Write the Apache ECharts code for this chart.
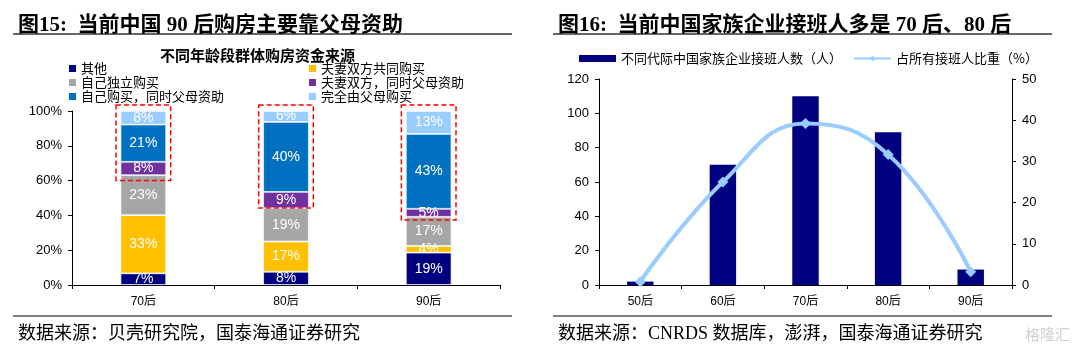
<!DOCTYPE html>
<html><head><meta charset="utf-8">
<script src="https://cdn.jsdelivr.net/npm/echarts@6/dist/echarts.min.js"></script>
<style>html,body{margin:0;padding:0;background:#fff}#c{width:1080px;height:344px}</style>
</head><body><div id="c"></div>
<script>
// ---- Left chart data ----
const leftCategories = ['70后', '80后', '90后'];
const leftSeriesNames = ['其他', '夫妻双方共同购买', '自己独立购买', '夫妻双方，同时父母资助', '自己购买，同时父母资助', '完全由父母购买'];
const otherVals = [6.7, 7.6, 18.6];
const coupleVals = [33.4, 17.4, 3.8];
const selfVals = [23.0, 19.1, 16.8];
const coupleParentVals = [7.7, 9.4, 4.6];
const selfParentVals = [21.4, 40.2, 43.0];
const parentVals = [7.8, 6.3, 13.2];
const highlightFrom = [60, 44.3, 37.4];
const leftYTicks = [0, 20, 40, 60, 80, 100];

// ---- Right chart data ----
const rightCategories = ['50后', '60后', '70后', '80后', '90后'];
const successorCounts = [2, 70, 110, 89, 9];
const successorShare = [0.8, 25, 39.2, 31.7, 3.2];
const rightSeriesNames = ['不同代际中国家族企业接班人数（人）', '占所有接班人比重（%）'];

const leftValues = [otherVals, coupleVals, selfVals, coupleParentVals, selfParentVals, parentVals];
const leftColors = ['#000080', '#FFC000', '#A6A6A6', '#7030A0', '#0070C0', '#99CCFF'];

const CJK = "'Noto Sans CJK SC', sans-serif";
const SERIF = "'Liberation Serif', 'Noto Sans CJK SC', serif";
const ARIAL = "'Liberation Sans', 'Noto Sans CJK SC', sans-serif";

const axisCommon = {
  axisLine: { show: true, lineStyle: { color: '#000', width: 1 } },
  axisTick: { show: true, length: 4, lineStyle: { color: '#000' } },
  axisLabel: { color: '#000', fontSize: 13, fontFamily: ARIAL },
  splitLine: { show: false }
};

const chart = echarts.init(document.getElementById('c'), null, { renderer: 'canvas' });

const series = [];
leftValues.forEach((vals, i) => {
  series.push({
    name: leftSeriesNames[i], type: 'bar', stack: 'src', xAxisIndex: 0, yAxisIndex: 0,
    barWidth: '32%', data: vals,
    itemStyle: { color: leftColors[i], borderColor: 'rgba(255,255,255,0.85)', borderWidth: 0.8 },
    label: {
      show: true, position: 'inside', color: '#fff', fontSize: 14, fontFamily: ARIAL,
      formatter: p => Math.round(p.value) + '%'
    }
  });
});
series.push({
  type: 'custom', xAxisIndex: 0, yAxisIndex: 0, silent: true, z: 10,
  data: highlightFrom.map((v, i) => [i, v]),
  renderItem: (params, api) => {
    const idx = api.value(0);
    const b = api.coord([idx, api.value(1)]);
    const t = api.coord([idx, 100]);
    const w = api.size([1, 0])[0] * 0.32 + 9;
    return {
      type: 'rect',
      shape: { x: b[0] - w / 2, y: t[1] - 6, width: w, height: b[1] - t[1] + 6 },
      style: { fill: 'none', stroke: '#FF0000', lineWidth: 1.5, lineDash: [5, 3] }
    };
  }
});
series.push({
  name: rightSeriesNames[0], type: 'bar', xAxisIndex: 1, yAxisIndex: 1,
  barWidth: '32%', data: successorCounts, itemStyle: { color: '#000080' }
});
series.push({
  name: rightSeriesNames[1], type: 'line', xAxisIndex: 1, yAxisIndex: 2,
  data: successorShare, smooth: 0.45, symbol: 'diamond', symbolSize: 11,
  lineStyle: { color: '#99CCFF', width: 4 }, itemStyle: { color: '#99CCFF' }, z: 5
});

const legendText = { fontSize: 13, fontFamily: CJK, color: '#000' };

chart.setOption({
  animation: false,
  backgroundColor: '#fff',
  title: [
    { text: '图15:  当前中国 90 后购房主要靠父母资助', left: 13, top: 10, textStyle: { fontSize: 21, fontWeight: 'bold', fontFamily: SERIF, color: '#000' } },
    { text: '不同年龄段群体购房资金来源', left: 155, top: 43, textStyle: { fontSize: 15, fontWeight: 'bold', fontFamily: CJK, color: '#000' } },
    { text: '图16:  当前中国家族企业接班人多是 70 后、80 后', left: 553, top: 10, textStyle: { fontSize: 21, fontWeight: 'bold', fontFamily: SERIF, color: '#000' } },
    { text: '数据来源：贝壳研究院，国泰海通证券研究', left: 13, top: 320, textStyle: { fontSize: 18, fontWeight: 'normal', fontFamily: SERIF, color: '#000' } },
    { text: '数据来源：CNRDS 数据库，澎湃，国泰海通证券研究', left: 553, top: 320, textStyle: { fontSize: 18, fontWeight: 'normal', fontFamily: SERIF, color: '#000' } },
    { text: '格隆汇', left: 1020, top: 322, textStyle: { fontSize: 15, fontWeight: 'normal', fontFamily: CJK, color: '#d0d0d0' } }
  ],
  legend: [
    { orient: 'vertical', left: 64, top: 57, itemGap: 1, itemWidth: 7, itemHeight: 7, icon: 'rect', itemStyle: { borderWidth: 0 },
      data: [leftSeriesNames[0], leftSeriesNames[2], leftSeriesNames[4]], textStyle: legendText },
    { orient: 'vertical', left: 304, top: 57, itemGap: 1, itemWidth: 7, itemHeight: 7, icon: 'rect', itemStyle: { borderWidth: 0 },
      data: [leftSeriesNames[1], leftSeriesNames[3], leftSeriesNames[5]], textStyle: legendText },
    { orient: 'horizontal', left: 574, top: 47, itemGap: 11, itemWidth: 37, itemHeight: 7,
      data: [{ name: rightSeriesNames[0], icon: 'rect' }, { name: rightSeriesNames[1] }], textStyle: legendText }
  ],
  grid: [
    { left: 72, right: 580, top: 111, bottom: 59 },
    { left: 599, right: 68, top: 79, bottom: 59 }
  ],
  xAxis: [
    Object.assign({}, axisCommon, { type: 'category', gridIndex: 0, data: leftCategories, axisLabel: Object.assign({}, axisCommon.axisLabel, { fontSize: 12, margin: 11 }) }),
    Object.assign({}, axisCommon, { type: 'category', gridIndex: 1, data: rightCategories, axisLabel: Object.assign({}, axisCommon.axisLabel, { fontSize: 12, margin: 11 }) })
  ],
  yAxis: [
    Object.assign({}, axisCommon, { type: 'value', gridIndex: 0, min: leftYTicks[0], max: leftYTicks[leftYTicks.length - 1], interval: leftYTicks[1] - leftYTicks[0],
      axisLabel: Object.assign({}, axisCommon.axisLabel, { formatter: '{value}%', margin: 10 }) }),
    Object.assign({}, axisCommon, { type: 'value', gridIndex: 1, min: 0, max: 120, interval: 20, axisLabel: Object.assign({}, axisCommon.axisLabel, { margin: 10 }) }),
    Object.assign({}, axisCommon, { type: 'value', gridIndex: 1, position: 'right', min: 0, max: 50, interval: 10, axisLabel: Object.assign({}, axisCommon.axisLabel, { margin: 10 }) })
  ],
  graphic: [
    { type: 'line', shape: { x1: 13, y1: 34, x2: 512, y2: 34 }, style: { stroke: '#333', lineWidth: 1.5 } },
    { type: 'line', shape: { x1: 553, y1: 34, x2: 1052, y2: 34 }, style: { stroke: '#333', lineWidth: 1.5 } },
    { type: 'line', shape: { x1: 13, y1: 316, x2: 512, y2: 316 }, style: { stroke: '#808080', lineWidth: 2 } },
    { type: 'line', shape: { x1: 553, y1: 316, x2: 1052, y2: 316 }, style: { stroke: '#808080', lineWidth: 2 } }
  ],
  series: series
});
</script>
</body></html>
